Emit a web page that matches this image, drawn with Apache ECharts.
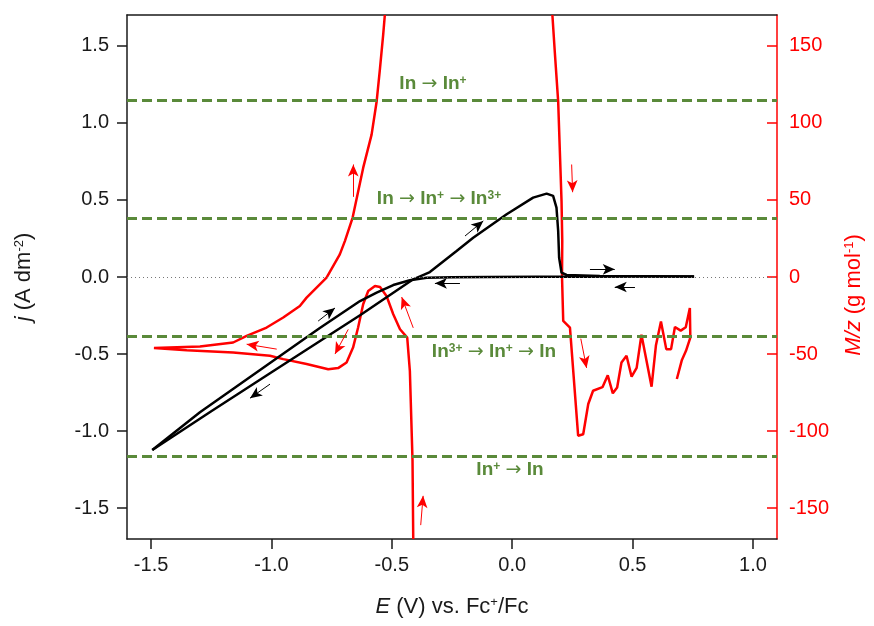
<!DOCTYPE html>
<html>
<head>
<meta charset="utf-8">
<script src="https://cdn.jsdelivr.net/npm/echarts@6/dist/echarts.min.js"></script>
<style>
  html, body { margin: 0; padding: 0; background: #fff; }
  #chart { width: 874px; height: 626px; }
</style>
</head>
<body>
<div id="chart"></div>
<script>
  // 阴极扫描 (E / V, j / A dm-2)
  const cathE = [0.755, 0.5, 0.3, 0.1, -0.1, -0.25, -0.355, -0.425, -0.494, -0.563, -0.632, -0.799, -1.006, -1.297, -1.495]
  const cathJ = [0.003, 0.003, 0.002, 0.001, 0.0, -0.001, -0.005, -0.021, -0.052, -0.102, -0.156, -0.331, -0.558, -0.877, -1.123]
  // 阳极扫描
  const anodE = [-1.495, -1.25, -1.006, -0.632, -0.411, -0.342, -0.231, -0.162, -0.023, 0.087, 0.143, 0.170, 0.184, 0.191, 0.195, 0.205, 0.226, 0.364, 0.756]
  const anodJ = [-1.123, -0.871, -0.625, -0.248, -0.015, 0.032, 0.169, 0.255, 0.407, 0.515, 0.541, 0.526, 0.45, 0.30, 0.125, 0.028, 0.013, 0.006, 0.003]
  // M/z 曲线 (null = 断开)
  const mzE = [-0.411, -0.414, -0.425, -0.436, -0.466, -0.494, -0.522, -0.549, -0.570, -0.598, -0.619, -0.640, -0.661, -0.688, -0.723, -0.764, -0.854, -0.951, -1.006, -1.159, -1.352, -1.488,
    -1.297, -1.159, -1.103, -1.02, -0.951, -0.882, -0.854, -0.771, -0.716, -0.695, -0.663, -0.619, -0.584, -0.563, -0.549, -0.536, -0.529,
    null,
    0.167, 0.177, 0.191, 0.198, 0.205, 0.208, 0.207, 0.212, 0.240, 0.274, 0.295, 0.316, 0.336, 0.375, 0.397, 0.418, 0.436, 0.454, 0.475, 0.496, 0.517, 0.537, 0.579, 0.597, 0.618, 0.640, 0.660, 0.676, 0.700, 0.721, 0.738, 0.740, 0.722, 0.705, 0.684]
  const mzM = [-170, -119, -61, -39.3, -33.9, -24.2, -12.3, -6.5, -5.8, -9.1, -17.7, -32.8, -45.8, -55.5, -59.1, -59.8, -56.5, -53.3, -51.1, -49, -47.5, -46,
    -45.1, -42.5, -38.2, -32.8, -26.3, -18.8, -13.4, -0.4, 14.7, 23.3, 38.4, 70.8, 92.4, 113.9, 135.5, 157, 170,
    null,
    170, 146, 114, 81.6, 49.2, 23.3, 0, -28.5, -32.8, -103, -102, -82.4, -73.8, -71.5, -63.8, -75.5, -71.7, -55.5, -51.1, -64.7, -59, -37.5, -71.2, -44.5, -28.9, -46.8, -46.8, -32.4, -34.8, -32.6, -20.1, -39.3, -47.9, -53.8, -66.2]

  // 绿色虚线 (g mol-1)
  const levelMz = [114.8, 38.3, -38.3, -116]
  const levelText = ['In {a|→} In{s|+}', 'In {a|→} In{s|+} {a|→} In{s|3+}', 'In{s|3+} {a|→} In{s|+} {a|→} In', 'In{s|+} {a|→} In']

  // 刻度
  const eTicks = [-1.5, -1.0, -0.5, 0.0, 0.5, 1.0]
  const jTicks = [-1.5, -1.0, -0.5, 0.0, 0.5, 1.0, 1.5]
  const mzTicks = [-150, -100, -50, 0, 50, 100, 150]

  // 箭头 [x1, y1, x2, y2]
  const blackArrows = [
    [-0.806, -0.286, -0.736, -0.201],
    [-1.006, -0.695, -1.089, -0.786],
    [-0.196, 0.266, -0.12, 0.364],
    [0.323, 0.05, 0.426, 0.05],
    [0.510, -0.065, 0.426, -0.065],
    [-0.217, -0.041, -0.321, -0.041]
  ]
  const redArrows = [
    [-0.66, 52, -0.66, 73],
    [0.247, 73, 0.251, 55],
    [0.285, -40, 0.309, -59],
    [-0.38, -161, -0.37, -142],
    [-0.411, -33, -0.459, -13],
    [-0.681, -34, -0.736, -50],
    [-0.978, -46.8, -1.103, -43.6]
  ]

  const green = '#5a8a3a'
  const red = '#ff0000'
  const ink = '#1a1a1a'
  const font = 'Liberation Sans'

  const zip = (xs, ys) => xs.map((x, i) => (x === null ? null : [x, ys[i]]))

  const arrowItems = (list, color) => list.map(a => [
    {coord: [a[0], a[1]], symbol: 'none', lineStyle: {color: color, width: 1, type: 'solid'}},
    {coord: [a[2], a[3]], symbol: 'arrow', symbolSize: [8, 12]}
  ])

  let chart = echarts.init(document.getElementById('chart'))

  let option = {
    animation: false,
    grid: {left: 127, right: 97, top: 15, bottom: 87},
    xAxis: [
      {
        type: 'value', min: -1.6, max: 1.1,
        name: '{it|E} (V) vs. Fc{sup|+}/Fc',
        nameLocation: 'middle', nameGap: 57,
        nameTextStyle: {
          fontSize: 22, color: ink, fontFamily: font,
          rich: {
            it: {fontSize: 22, fontStyle: 'italic', color: ink, fontFamily: font},
            sup: {fontSize: 13, verticalAlign: 'top', color: ink, fontFamily: font}
          }
        },
        axisLine: {onZero: false, lineStyle: {color: ink, width: 1.5}},
        axisTick: {customValues: eTicks, length: 10, lineStyle: {color: ink, width: 1.5}},
        axisLabel: {customValues: eTicks, fontSize: 20, color: ink, fontFamily: font, margin: 16, formatter: v => v.toFixed(1)},
        splitLine: {show: false}
      },
      {
        type: 'value', min: -1.6, max: 1.1, position: 'top',
        axisLine: {onZero: false, lineStyle: {color: ink, width: 1.5}},
        axisTick: {show: false}, axisLabel: {show: false}, splitLine: {show: false}
      }
    ],
    yAxis: [
      {
        type: 'value', min: -1.7, max: 1.7,
        name: '{it|j} (A dm{sup|-2})',
        nameLocation: 'middle', nameGap: 92, nameRotate: 90,
        nameTextStyle: {
          fontSize: 22, color: ink, fontFamily: font,
          rich: {
            it: {fontSize: 22, fontStyle: 'italic', color: ink, fontFamily: font},
            sup: {fontSize: 13, verticalAlign: 'top', color: ink, fontFamily: font}
          }
        },
        axisLine: {show: true, onZero: false, lineStyle: {color: ink, width: 1.5}},
        axisTick: {show: true, customValues: jTicks, length: 10, lineStyle: {color: ink, width: 1.5}},
        axisLabel: {customValues: jTicks, fontSize: 20, color: ink, fontFamily: font, margin: 18, formatter: v => v.toFixed(1)},
        splitLine: {show: false}
      },
      {
        type: 'value', min: -170, max: 170, position: 'right',
        name: '{it|M/z} (g mol{sup|-1})',
        nameLocation: 'middle', nameGap: 66, nameRotate: 90,
        nameTextStyle: {
          fontSize: 22, color: red, fontFamily: font, padding: [0, 36, 0, 0],
          rich: {
            it: {fontSize: 22, fontStyle: 'italic', color: red, fontFamily: font},
            sup: {fontSize: 13, verticalAlign: 'top', color: red, fontFamily: font}
          }
        },
        axisLine: {show: true, onZero: false, lineStyle: {color: red, width: 1.5}},
        axisTick: {show: true, inside: true, customValues: mzTicks, length: 10, lineStyle: {color: red, width: 1.5}},
        axisLabel: {customValues: mzTicks, fontSize: 20, color: red, fontFamily: font, margin: 12, formatter: v => String(v)},
        splitLine: {show: false}
      }
    ],
    series: [
      {
        name: 'M/z',
        type: 'line', xAxisIndex: 0, yAxisIndex: 1,
        data: zip(mzE, mzM),
        showSymbol: false, symbol: 'none', connectNulls: false,
        lineStyle: {color: red, width: 2.5},
        z: 2,
        markLine: {
          silent: true, animation: false,
          symbol: ['none', 'none'],
          label: {show: false},
          emphasis: {disabled: true},
          data: levelMz.map(v => ({yAxis: v, symbol: 'none', lineStyle: {color: green, width: 3, type: [10, 5]}}))
            .concat(arrowItems(redArrows, red))
        }
      },
      {
        name: 'cathodic',
        type: 'line', xAxisIndex: 0, yAxisIndex: 0,
        data: zip(cathE, cathJ),
        showSymbol: false, symbol: 'none',
        lineStyle: {color: '#000', width: 2.5},
        z: 3
      },
      {
        name: 'anodic',
        type: 'line', xAxisIndex: 0, yAxisIndex: 0,
        data: zip(anodE, anodJ),
        showSymbol: false, symbol: 'none',
        lineStyle: {color: '#000', width: 2.5},
        z: 3,
        markLine: {
          silent: true, animation: false,
          symbol: ['none', 'none'],
          label: {show: false},
          emphasis: {disabled: true},
          data: [{yAxis: 0, symbol: 'none', lineStyle: {color: '#777', width: 1, type: [1, 3]}}]
            .concat(arrowItems(blackArrows, '#000'))
        }
      }
    ]
  }
  chart.setOption(option)

  // 反应标注
  const labelPos = [[433, 84], [439, 199], [494, 352], [510, 470]]
  chart.setOption({
    graphic: levelText.map((t, i) => ({
      type: 'text', x: labelPos[i][0], y: labelPos[i][1], z: 10,
      style: {
        text: t, align: 'center', verticalAlign: 'middle',
        fontSize: 19, fontWeight: 'bold', fontFamily: font, fill: green,
        rich: {
          s: {fontSize: 12, fontWeight: 'bold', fontFamily: font, fill: green, verticalAlign: 'top'},
          a: {fontSize: 19, fontWeight: 'normal', fontFamily: 'DejaVu Sans', fill: green}
        }
      }
    }))
  })
</script>
</body>
</html>
